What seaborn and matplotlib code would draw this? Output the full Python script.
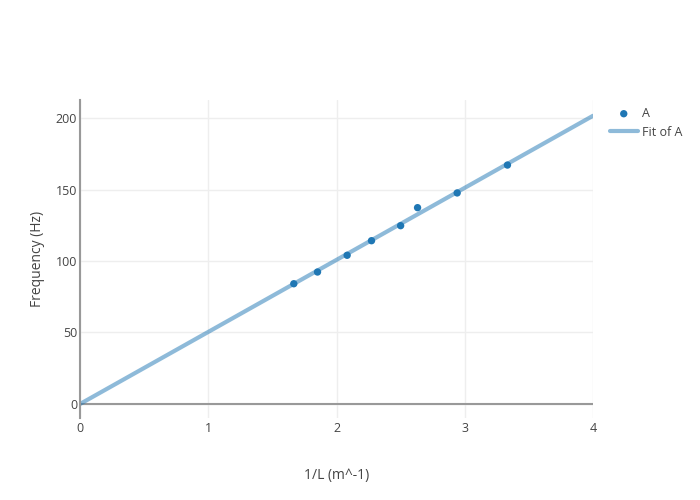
import numpy as np
import pandas as pd
import seaborn as sns
import matplotlib.pyplot as plt

sns.set_style("white")
plt.rcParams['font.family'] = ['Open Sans', 'DejaVu Sans']

# measured data: 1/L and frequency
inv_len = [1.667, 1.852, 2.083, 2.273, 2.5, 2.632, 2.941, 3.333]
freq = [84.1, 92.3, 104.0, 114.2, 124.7, 137.3, 147.6, 167.1]
fit_x = [0, 4]

df = pd.DataFrame({"x": inv_len, "y": freq})
# least squares fit through the origin
xs = np.array(inv_len)
slope = np.sum(xs * np.array(freq)) / np.sum(xs * xs)
fit = pd.DataFrame({"x": fit_x, "y": [slope * v for v in fit_x]})

fig = plt.figure(figsize=(7, 5), dpi=100)
ax = fig.add_axes([80 / 700, 1 - 418 / 500, 513 / 700, 318 / 500])

grey = "#444444"
ax.set_xlim(0, 4)
ax.set_ylim(-9.8, 212.6)
ax.set_xticks([0, 1, 2, 3, 4])
ax.set_yticks([0, 50, 100, 150, 200])
ax.grid(True, color="#eeeeee", linewidth=1)
ax.set_axisbelow(True)
for s in ["top", "right", "bottom"]:
    ax.spines[s].set_visible(False)
ax.spines["left"].set_color("#999999")
ax.spines["left"].set_linewidth(1.5)
ax.axhline(0, color="#999999", linewidth=1.5, zorder=1)

sns.lineplot(data=fit, x="x", y="y", ax=ax, color="#1f77b4", alpha=0.5,
             linewidth=3, label="Fit of A", zorder=2)
sns.scatterplot(data=df, x="x", y="y", ax=ax, color="#1f77b4", s=28,
                edgecolor="none", label="A", zorder=3)

ax.tick_params(axis="both", length=0, labelsize=9, labelcolor=grey)
ax.tick_params(axis="y", pad=2)
ax.tick_params(axis="x", pad=3)
ax.set_xlabel("1/L (m^-1)", fontsize=10, color=grey, labelpad=24)
ax.set_ylabel("Frequency (Hz)", fontsize=10, color=grey, labelpad=8)

handles, labels = ax.get_legend_handles_labels()
order = [labels.index("A"), labels.index("Fit of A")]
ax.legend([handles[i] for i in order], [labels[i] for i in order],
          loc="upper left", bbox_to_anchor=(610 / 700, 1 - 107 / 500),
          bbox_transform=fig.transFigure, frameon=False, fontsize=9,
          labelcolor=grey, handlelength=2.2, handletextpad=0.4,
          labelspacing=0.45, borderaxespad=0, borderpad=0)

fig.savefig("out.png", dpi=100)
